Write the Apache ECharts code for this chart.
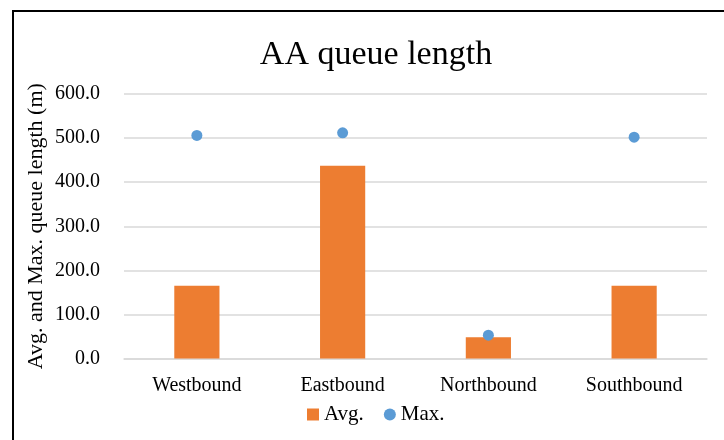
<!DOCTYPE html>
<html>
<head>
<meta charset="utf-8">
<script src="https://cdn.jsdelivr.net/npm/echarts@6/dist/echarts.min.js"></script>
<style>
  html, body { margin: 0; padding: 0; background: #fff; }
  #wrap { position: relative; width: 724px; height: 440px; overflow: hidden; }
  #chart { width: 724px; height: 440px; }
  #frame { position: absolute; left: 12px; top: 10px; width: 740px; height: 460px;
           border-left: 2px solid #000; border-top: 2px solid #000; pointer-events: none; }
</style>
</head>
<body>
<div id="wrap">
  <div id="chart"></div>
  <div id="frame"></div>
</div>
<script>
const categories = ['Westbound', 'Eastbound', 'Northbound', 'Southbound'];
const avgValues = [165, 437, 48, 165];
const maxValues = [506, 512, 53, 502];
const yTicks = { min: 0, max: 600, interval: 100 };

const FONT = '"Liberation Serif", "Times New Roman", serif';
const chart = echarts.init(document.getElementById('chart'), null, { renderer: 'canvas' });
chart.setOption({
  animation: false,
  backgroundColor: '#fff',
  title: {
    text: 'AA queue length',
    left: 371, top: 33, textAlign: 'center',
    textStyle: { fontFamily: FONT, fontSize: 34, fontWeight: 'normal', color: '#000' }
  },
  legend: {
    left: 302, top: 399,
    itemGap: 20, itemWidth: 12, itemHeight: 12,
    textStyle: { fontFamily: FONT, fontSize: 21, color: '#000' },
    data: [{ name: 'Avg.', icon: 'rect' }, { name: 'Max.', icon: 'circle' }]
  },
  grid: { left: 124, right: 17, top: 94, bottom: 81.5, containLabel: false },
  xAxis: {
    type: 'category', data: categories,
    axisLine: { show: true, lineStyle: { color: '#d9d9d9', width: 1.5 } },
    axisTick: { show: false },
    axisLabel: { fontFamily: FONT, fontSize: 20, color: '#000', margin: 17 }
  },
  yAxis: {
    type: 'value', min: yTicks.min, max: yTicks.max, interval: yTicks.interval,
    name: 'Avg. and Max. queue length (m)',
    nameLocation: 'middle', nameGap: 77, nameMoveOverlap: false,
    nameTextStyle: { fontFamily: FONT, fontSize: 22, color: '#000' },
    axisLine: { show: false }, axisTick: { show: false },
    axisLabel: { fontFamily: FONT, fontSize: 20, color: '#000', margin: 24,
                 formatter: v => v.toFixed(1) },
    splitLine: { lineStyle: { color: '#d9d9d9', width: 1.5 } }
  },
  series: [
    { name: 'Avg.', type: 'bar', data: avgValues, barWidth: '31%',
      itemStyle: { color: '#ED7D31' } },
    { name: 'Max.', type: 'scatter', data: maxValues, symbol: 'circle', symbolSize: 11,
      itemStyle: { color: '#5B9BD5', opacity: 1 } }
  ]
});
</script>
</body>
</html>
